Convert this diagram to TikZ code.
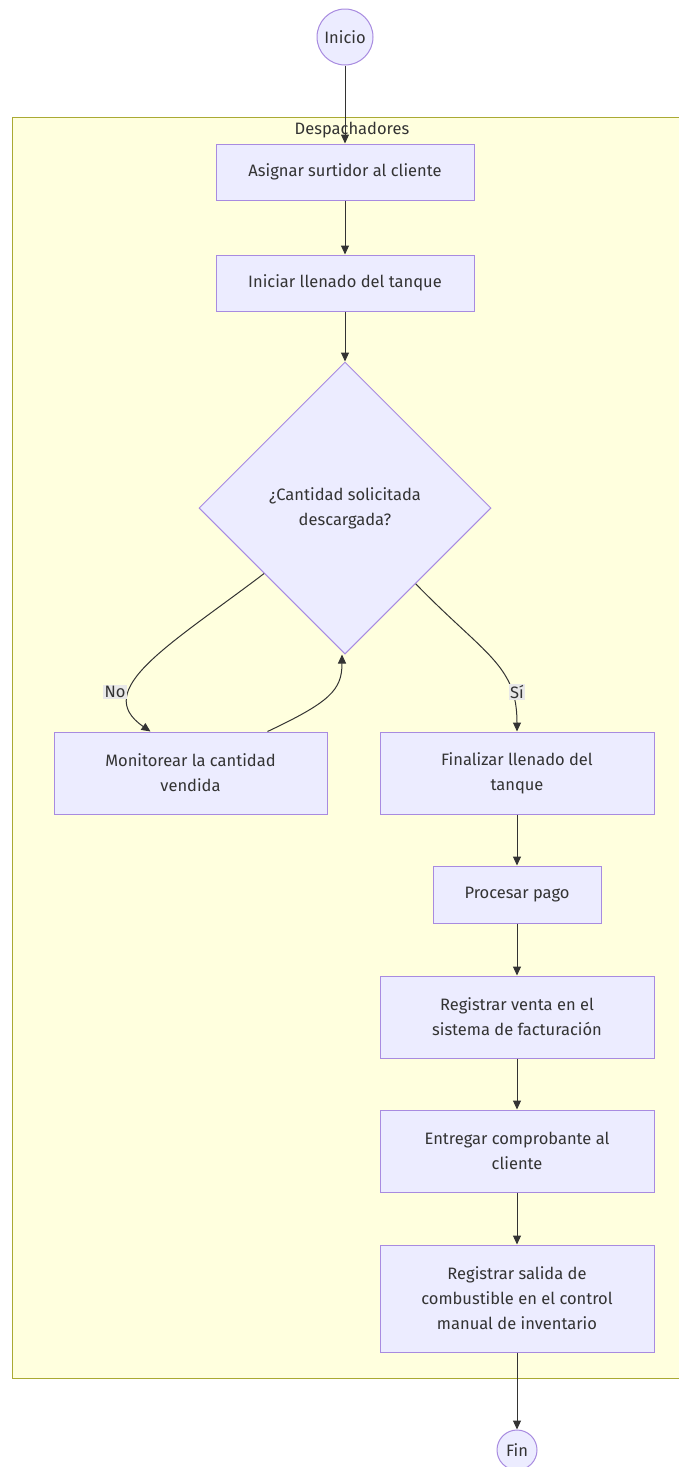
\documentclass[tikz,border=0pt]{standalone}
\usepackage{fontspec}
\setmainfont{Fira Sans}
\usetikzlibrary{shapes.geometric,arrows.meta,calc}
\definecolor{nodefill}{HTML}{ECECFF}
\definecolor{nodeline}{HTML}{A88BE0}
\definecolor{clusterfill}{HTML}{FFFFDE}
\definecolor{clusterline}{HTML}{AAAA33}
\definecolor{ink}{HTML}{333333}
\definecolor{labelbg}{HTML}{E8E8E8}

\begin{document}
\begin{tikzpicture}[x=1pt,y=-1pt,
  txt/.style={font=\fontsize{16.5}{25}\selectfont, text=ink},
  stepbox/.style={txt, draw=nodeline, fill=nodefill, line width=1pt,
    rectangle, align=center, inner sep=0pt},
  terminal/.style={txt, draw=nodeline, fill=nodefill, line width=1pt,
    circle, inner sep=0pt},
  decision/.style={txt, draw=nodeline, fill=nodefill, line width=1pt,
    diamond, aspect=1, align=center, inner sep=0pt,
    minimum width=292pt, minimum height=292pt},
  flow/.style={draw=ink, line width=1pt,
    -{Triangle[length=9pt,width=8pt]}},
  edgelabel/.style={txt, fill=labelbg, inner sep=1.5pt}
]
\useasboundingbox (0,0) rectangle (679,1467);
\clip (0,0) rectangle (679,1467);
\fill[white] (0,0) rectangle (679,1467);

% swimlane
\draw[fill=clusterfill, draw=clusterline, line width=1pt]
  (12,117) rectangle (700,1378);
\node[txt] (lane) at (352,130) {Despachadores};

% nodes
\node[terminal, minimum size=56pt] (ini) at (345,37) {Inicio};
\node[stepbox, minimum width=258pt, minimum height=56pt] (asig) at (345,172) {Asignar surtidor al cliente};
\node[stepbox, minimum width=258pt, minimum height=56pt] (inic) at (345,283) {Iniciar llenado del tanque};
\node[decision] (dec) at (345,508) {¿Cantidad solicitada\\descargada?};
\node[stepbox, minimum width=273pt, minimum height=82pt] (mon) at (190.5,773) {Monitorear la cantidad\\vendida};
\node[stepbox, minimum width=274pt, minimum height=82pt] (fin) at (517,773) {Finalizar llenado del\\tanque};
\node[stepbox, minimum width=168pt, minimum height=57pt] (pago) at (517,894.5) {Procesar pago};
\node[stepbox, minimum width=274pt, minimum height=82pt] (venta) at (517,1017) {Registrar venta en el\\sistema de facturación};
\node[stepbox, minimum width=274pt, minimum height=82pt] (compr) at (517,1151) {Entregar comprobante al\\cliente};
\node[stepbox, minimum width=274pt, minimum height=107pt] (salida) at (517,1298.5) {Registrar salida de\\combustible en el control\\manual de inventario};
\node[terminal, minimum size=40pt] (end) at (517,1450) {Fin};

% connectors
\draw[flow] (ini) -- (asig);
\draw[flow] (asig) -- (inic);
\draw[flow] (inic) -- (dec.north);
\draw[flow] (dec.219) .. controls (170,645) and (90,690) .. ($(mon.north west)+(97,0)$);
\draw[flow] ($(mon.north west)+(214,0)$) .. controls (330,702) and (342,690) .. ($(dec.south)+(-3,0)$);
\draw[flow] (dec.-47) .. controls (485,655) and (517,665) .. (fin.north);
\draw[flow] (fin) -- (pago);
\draw[flow] (pago) -- (venta);
\draw[flow] (venta) -- (compr);
\draw[flow] (compr) -- (salida);
\draw[flow] (salida) -- (end);

% branch labels
\node[edgelabel] (lno) at (115,692) {No};
\node[edgelabel] (lsi) at (517,692) {Sí};
\end{tikzpicture}
\end{document}
